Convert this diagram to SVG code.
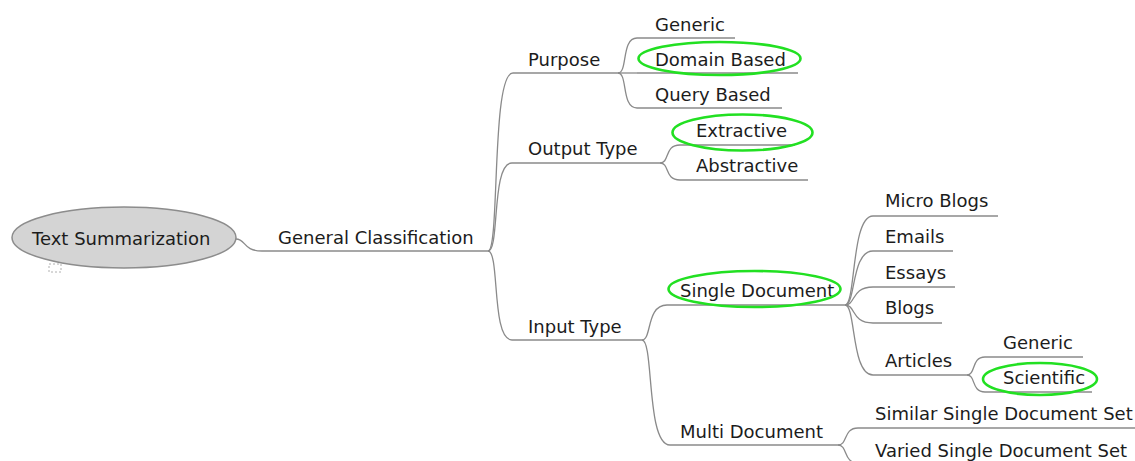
<svg xmlns="http://www.w3.org/2000/svg" width="1135" height="461" viewBox="0 0 1135 461">
  <style>
    .lbl { font-family: "DejaVu Sans", "Liberation Sans", sans-serif; font-size: 18px; fill: #1c1c1c; }
    .edge { fill: none; stroke: #8a8a8a; stroke-width: 1.3; }
    .uline { stroke: #8a8a8a; stroke-width: 1.3; }
    .mark { fill: none; stroke: #22e022; stroke-width: 2.6; }
  </style>
  <rect width="1135" height="461" fill="#ffffff"/>

  <!-- connectors -->
  <g id="connectors">
    <path class="edge" d="M 236 239 C 246 239, 243 251, 262 251"/>
    <path class="edge" d="M 488 251 C 500 251, 491 73, 513 73"/>
    <path class="edge" d="M 488 251 C 500 251, 491 163, 512 163"/>
    <path class="edge" d="M 488 251 C 500 251, 491 340, 512 340"/>
    <path class="edge" d="M 618 73 C 628 73, 621 38, 637 38"/>
    <path class="edge" d="M 618 73 L 637 73"/>
    <path class="edge" d="M 618 73 C 628 73, 621 108, 637 108"/>
    <path class="edge" d="M 660 163 C 670 163, 664 145, 680 145"/>
    <path class="edge" d="M 660 163 C 670 163, 664 180, 680 180"/>
    <path class="edge" d="M 642 340 C 652 340, 646 305, 667 305"/>
    <path class="edge" d="M 642 340 C 654 340, 646 445, 670 445"/>
    <path class="edge" d="M 845 305 C 856 305, 851 216, 873 216"/>
    <path class="edge" d="M 845 305 C 856 305, 851 251, 873 251"/>
    <path class="edge" d="M 845 305 C 856 305, 851 287, 873 287"/>
    <path class="edge" d="M 845 305 C 856 305, 851 323, 873 323"/>
    <path class="edge" d="M 845 305 C 856 305, 851 375, 873 375"/>
    <path class="edge" d="M 967 375 C 976 375, 971 357, 985 357"/>
    <path class="edge" d="M 967 375 C 976 375, 971 392, 985 392"/>
    <path class="edge" d="M 838 445 C 848 445, 843 428, 858 428"/>
    <path class="edge" d="M 838 445 C 848 445, 843 463, 858 463"/>
  </g>

  <!-- root -->
  <g id="n-root">
    <ellipse cx="124" cy="237.5" rx="112" ry="30.5" fill="#d4d4d4" stroke="#8c8c8c" stroke-width="1.5"/>
    <text class="lbl" x="32" y="245">Text Summarization</text>
    <rect x="49" y="264" width="12" height="8" fill="none" stroke="#b0b0b0" stroke-width="1" stroke-dasharray="2 2"/>
  </g>

  <g id="n-general">
    <line class="uline" x1="262" y1="251" x2="488" y2="251"/>
    <text class="lbl" x="278" y="244">General Classification</text>
  </g>

  <g id="n-purpose">
    <line class="uline" x1="513" y1="73" x2="618" y2="73"/>
    <text class="lbl" x="528" y="66">Purpose</text>
  </g>
  <g id="n-generic">
    <line class="uline" x1="637" y1="38" x2="735" y2="38"/>
    <text class="lbl" x="655" y="31">Generic</text>
  </g>
  <g id="n-domain">
    <line class="uline" x1="637" y1="73" x2="798" y2="73"/>
    <text class="lbl" x="655" y="66">Domain Based</text>
    <ellipse class="mark" cx="719.5" cy="58.5" rx="81" ry="16.5"/>
  </g>
  <g id="n-query">
    <line class="uline" x1="637" y1="108" x2="782" y2="108"/>
    <text class="lbl" x="655" y="101">Query Based</text>
  </g>

  <g id="n-output">
    <line class="uline" x1="512" y1="163" x2="660" y2="163"/>
    <text class="lbl" x="528" y="155">Output Type</text>
  </g>
  <g id="n-extractive">
    <line class="uline" x1="680" y1="145" x2="795" y2="145"/>
    <text class="lbl" x="696" y="137">Extractive</text>
    <ellipse class="mark" cx="742.5" cy="132.5" rx="70" ry="18"/>
  </g>
  <g id="n-abstractive">
    <line class="uline" x1="680" y1="180" x2="808" y2="180"/>
    <text class="lbl" x="696" y="172">Abstractive</text>
  </g>

  <g id="n-input">
    <line class="uline" x1="512" y1="340" x2="642" y2="340"/>
    <text class="lbl" x="528" y="333">Input Type</text>
  </g>
  <g id="n-single">
    <line class="uline" x1="667" y1="305" x2="845" y2="305"/>
    <text class="lbl" x="680" y="297">Single Document</text>
    <ellipse class="mark" cx="754.5" cy="289" rx="86" ry="18"/>
  </g>
  <g id="n-microblogs">
    <line class="uline" x1="873" y1="216" x2="998" y2="216"/>
    <text class="lbl" x="885" y="207">Micro Blogs</text>
  </g>
  <g id="n-emails">
    <line class="uline" x1="873" y1="251" x2="953" y2="251"/>
    <text class="lbl" x="885" y="243">Emails</text>
  </g>
  <g id="n-essays">
    <line class="uline" x1="873" y1="287" x2="955" y2="287"/>
    <text class="lbl" x="885" y="279">Essays</text>
  </g>
  <g id="n-blogs">
    <line class="uline" x1="873" y1="323" x2="942" y2="323"/>
    <text class="lbl" x="885" y="314">Blogs</text>
  </g>
  <g id="n-articles">
    <line class="uline" x1="873" y1="375" x2="967" y2="375"/>
    <text class="lbl" x="885" y="367">Articles</text>
  </g>
  <g id="n-art-generic">
    <line class="uline" x1="985" y1="357" x2="1083" y2="357"/>
    <text class="lbl" x="1003" y="349">Generic</text>
  </g>
  <g id="n-scientific">
    <line class="uline" x1="985" y1="392" x2="1092" y2="392"/>
    <text class="lbl" x="1003" y="384">Scientific</text>
    <ellipse class="mark" cx="1040" cy="379" rx="57" ry="16"/>
  </g>

  <g id="n-multi">
    <line class="uline" x1="670" y1="445" x2="838" y2="445"/>
    <text class="lbl" x="680" y="438">Multi Document</text>
  </g>
  <g id="n-similar">
    <line class="uline" x1="858" y1="428" x2="1135" y2="428"/>
    <text class="lbl" x="875" y="420">Similar Single Document Set</text>
  </g>
  <g id="n-varied">
    <line class="uline" x1="858" y1="463" x2="1135" y2="463"/>
    <text class="lbl" x="875" y="457">Varied Single Document Set</text>
  </g>
</svg>
